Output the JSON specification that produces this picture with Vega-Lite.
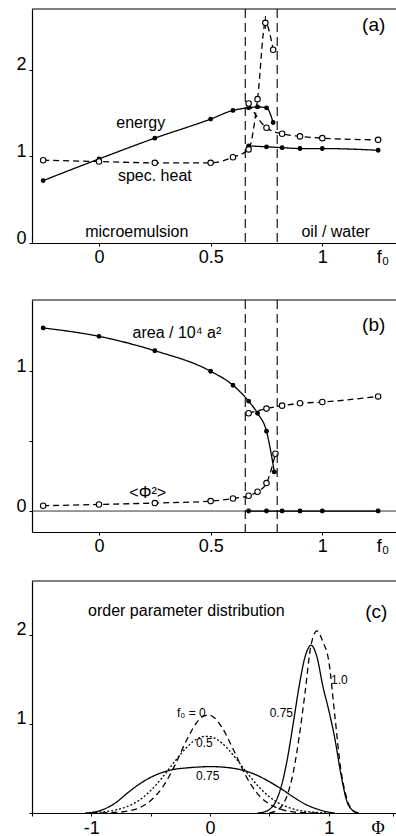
{
  "$schema": "https://vega.github.io/schema/vega-lite/v6.json",
  "padding": {"top": 8, "left": 0, "right": 0, "bottom": 0},
  "spacing": 31,
  "resolve": {"scale": {"strokeDash": "independent", "fill": "independent", "size": "independent"}},
  "config": {
    "font": "Liberation Sans",
    "view": {"stroke": null},
    "axis": {"grid": false, "domainColor": "black", "tickColor": "black", "labelColor": "black", "labelFontSize": 18, "tickSize": 3, "domainWidth": 1.2, "tickWidth": 1, "labelFlush": false, "labelOverlap": false},
    "axisY": {"minExtent": 32, "maxExtent": 32, "labelPadding": 3, "labelBaseline": "alphabetic"},
    "text": {"font": "Liberation Sans", "color": "black"}
  },
  "datasets": {
    "a": [
      {"f0": -0.25, "value": 0.72, "quantity": "energy", "curve": "E1"},
      {"f0": 0, "value": 0.97, "quantity": "energy", "curve": "E1"},
      {"f0": 0.25, "value": 1.21, "quantity": "energy", "curve": "E1"},
      {"f0": 0.5, "value": 1.43, "quantity": "energy", "curve": "E1"},
      {"f0": 0.6, "value": 1.53, "quantity": "energy", "curve": "E1"},
      {"f0": 0.67, "value": 1.56, "quantity": "energy", "curve": "E1"},
      {"f0": 0.71, "value": 1.57, "quantity": "energy", "curve": "E1"},
      {"f0": 0.75, "value": 1.56, "quantity": "energy", "curve": "E1"},
      {"f0": 0.78, "value": 1.39, "quantity": "energy", "curve": "E1"},
      {"f0": 0.67, "value": 1.12, "quantity": "energy", "curve": "E2"},
      {"f0": 0.75, "value": 1.11, "quantity": "energy", "curve": "E2"},
      {"f0": 0.82, "value": 1.1, "quantity": "energy", "curve": "E2"},
      {"f0": 0.9, "value": 1.09, "quantity": "energy", "curve": "E2"},
      {"f0": 1.0, "value": 1.09, "quantity": "energy", "curve": "E2"},
      {"f0": 1.25, "value": 1.07, "quantity": "energy", "curve": "E2"},
      {"f0": -0.25, "value": 0.955, "quantity": "spec. heat", "curve": "C1"},
      {"f0": 0, "value": 0.94, "quantity": "spec. heat", "curve": "C1"},
      {"f0": 0.25, "value": 0.925, "quantity": "spec. heat", "curve": "C1"},
      {"f0": 0.5, "value": 0.925, "quantity": "spec. heat", "curve": "C1"},
      {"f0": 0.6, "value": 0.99, "quantity": "spec. heat", "curve": "C1"},
      {"f0": 0.67, "value": 1.08, "quantity": "spec. heat", "curve": "C1"},
      {"f0": 0.71, "value": 1.66, "quantity": "spec. heat", "curve": "C1"},
      {"f0": 0.745, "value": 2.54, "quantity": "spec. heat", "curve": "C1"},
      {"f0": 0.78, "value": 2.23, "quantity": "spec. heat", "curve": "C1"},
      {"f0": 0.67, "value": 1.61, "quantity": "spec. heat", "curve": "C2"},
      {"f0": 0.75, "value": 1.33, "quantity": "spec. heat", "curve": "C2"},
      {"f0": 0.82, "value": 1.26, "quantity": "spec. heat", "curve": "C2"},
      {"f0": 0.9, "value": 1.23, "quantity": "spec. heat", "curve": "C2"},
      {"f0": 1.0, "value": 1.21, "quantity": "spec. heat", "curve": "C2"},
      {"f0": 1.25, "value": 1.19, "quantity": "spec. heat", "curve": "C2"}
    ],
    "b": [
      {"f0": -0.25, "value": 1.31, "quantity": "area", "curve": "A1"},
      {"f0": 0, "value": 1.25, "quantity": "area", "curve": "A1"},
      {"f0": 0.25, "value": 1.147, "quantity": "area", "curve": "A1"},
      {"f0": 0.5, "value": 1.0, "quantity": "area", "curve": "A1"},
      {"f0": 0.6, "value": 0.9, "quantity": "area", "curve": "A1"},
      {"f0": 0.67, "value": 0.786, "quantity": "area", "curve": "A1"},
      {"f0": 0.71, "value": 0.7, "quantity": "area", "curve": "A1"},
      {"f0": 0.75, "value": 0.571, "quantity": "area", "curve": "A1"},
      {"f0": 0.785, "value": 0.28, "quantity": "area", "curve": "A1"},
      {"f0": 0.67, "value": 0, "quantity": "area", "curve": "A2"},
      {"f0": 0.75, "value": 0, "quantity": "area", "curve": "A2"},
      {"f0": 0.82, "value": 0, "quantity": "area", "curve": "A2"},
      {"f0": 0.9, "value": 0, "quantity": "area", "curve": "A2"},
      {"f0": 1.0, "value": 0, "quantity": "area", "curve": "A2"},
      {"f0": 1.25, "value": 0, "quantity": "area", "curve": "A2"},
      {"f0": -0.25, "value": 0.038, "quantity": "phi2", "curve": "P1"},
      {"f0": 0, "value": 0.047, "quantity": "phi2", "curve": "P1"},
      {"f0": 0.25, "value": 0.057, "quantity": "phi2", "curve": "P1"},
      {"f0": 0.5, "value": 0.071, "quantity": "phi2", "curve": "P1"},
      {"f0": 0.6, "value": 0.09, "quantity": "phi2", "curve": "P1"},
      {"f0": 0.67, "value": 0.109, "quantity": "phi2", "curve": "P1"},
      {"f0": 0.71, "value": 0.138, "quantity": "phi2", "curve": "P1"},
      {"f0": 0.75, "value": 0.2, "quantity": "phi2", "curve": "P1"},
      {"f0": 0.79, "value": 0.41, "quantity": "phi2", "curve": "P1"},
      {"f0": 0.67, "value": 0.7, "quantity": "phi2", "curve": "P2"},
      {"f0": 0.75, "value": 0.733, "quantity": "phi2", "curve": "P2"},
      {"f0": 0.82, "value": 0.754, "quantity": "phi2", "curve": "P2"},
      {"f0": 0.9, "value": 0.771, "quantity": "phi2", "curve": "P2"},
      {"f0": 1.0, "value": 0.78, "quantity": "phi2", "curve": "P2"},
      {"f0": 1.25, "value": 0.82, "quantity": "phi2", "curve": "P2"}
    ],
    "c": [
      {"phi": -1.0, "p": 0.0, "f0": "0", "curve": "0"},
      {"phi": -0.9, "p": 0.002, "f0": "0", "curve": "0"},
      {"phi": -0.8, "p": 0.006, "f0": "0", "curve": "0"},
      {"phi": -0.7, "p": 0.02, "f0": "0", "curve": "0"},
      {"phi": -0.6, "p": 0.055, "f0": "0", "curve": "0"},
      {"phi": -0.5, "p": 0.14, "f0": "0", "curve": "0"},
      {"phi": -0.4, "p": 0.29, "f0": "0", "curve": "0"},
      {"phi": -0.3, "p": 0.525, "f0": "0", "curve": "0"},
      {"phi": -0.2, "p": 0.81, "f0": "0", "curve": "0"},
      {"phi": -0.1, "p": 1.035, "f0": "0", "curve": "0"},
      {"phi": -0.05, "p": 1.09, "f0": "0", "curve": "0"},
      {"phi": 0, "p": 1.096, "f0": "0", "curve": "0"},
      {"phi": 0.05, "p": 1.05, "f0": "0", "curve": "0"},
      {"phi": 0.1, "p": 0.96, "f0": "0", "curve": "0"},
      {"phi": 0.2, "p": 0.7, "f0": "0", "curve": "0"},
      {"phi": 0.3, "p": 0.42, "f0": "0", "curve": "0"},
      {"phi": 0.4, "p": 0.215, "f0": "0", "curve": "0"},
      {"phi": 0.5, "p": 0.1, "f0": "0", "curve": "0"},
      {"phi": 0.6, "p": 0.04, "f0": "0", "curve": "0"},
      {"phi": 0.7, "p": 0.012, "f0": "0", "curve": "0"},
      {"phi": 0.8, "p": 0.003, "f0": "0", "curve": "0"},
      {"phi": 0.9, "p": 0.0, "f0": "0", "curve": "0"},
      {"phi": -1.0, "p": 0.005, "f0": "0.5", "curve": "0.5"},
      {"phi": -0.9, "p": 0.013, "f0": "0.5", "curve": "0.5"},
      {"phi": -0.8, "p": 0.032, "f0": "0.5", "curve": "0.5"},
      {"phi": -0.7, "p": 0.071, "f0": "0.5", "curve": "0.5"},
      {"phi": -0.6, "p": 0.141, "f0": "0.5", "curve": "0.5"},
      {"phi": -0.5, "p": 0.252, "f0": "0.5", "curve": "0.5"},
      {"phi": -0.4, "p": 0.402, "f0": "0.5", "curve": "0.5"},
      {"phi": -0.3, "p": 0.574, "f0": "0.5", "curve": "0.5"},
      {"phi": -0.2, "p": 0.732, "f0": "0.5", "curve": "0.5"},
      {"phi": -0.1, "p": 0.837, "f0": "0.5", "curve": "0.5"},
      {"phi": -0.05, "p": 0.858, "f0": "0.5", "curve": "0.5"},
      {"phi": 0, "p": 0.856, "f0": "0.5", "curve": "0.5"},
      {"phi": 0.1, "p": 0.783, "f0": "0.5", "curve": "0.5"},
      {"phi": 0.2, "p": 0.641, "f0": "0.5", "curve": "0.5"},
      {"phi": 0.3, "p": 0.47, "f0": "0.5", "curve": "0.5"},
      {"phi": 0.4, "p": 0.308, "f0": "0.5", "curve": "0.5"},
      {"phi": 0.5, "p": 0.181, "f0": "0.5", "curve": "0.5"},
      {"phi": 0.6, "p": 0.095, "f0": "0.5", "curve": "0.5"},
      {"phi": 0.7, "p": 0.045, "f0": "0.5", "curve": "0.5"},
      {"phi": 0.8, "p": 0.019, "f0": "0.5", "curve": "0.5"},
      {"phi": 0.9, "p": 0.007, "f0": "0.5", "curve": "0.5"},
      {"phi": 1.0, "p": 0.002, "f0": "0.5", "curve": "0.5"},
      {"phi": -1.05, "p": 0.0, "f0": "0.75", "curve": "0.75L"},
      {"phi": -1.0, "p": 0.005, "f0": "0.75", "curve": "0.75L"},
      {"phi": -0.9, "p": 0.04, "f0": "0.75", "curve": "0.75L"},
      {"phi": -0.8, "p": 0.11, "f0": "0.75", "curve": "0.75L"},
      {"phi": -0.7, "p": 0.22, "f0": "0.75", "curve": "0.75L"},
      {"phi": -0.6, "p": 0.32, "f0": "0.75", "curve": "0.75L"},
      {"phi": -0.5, "p": 0.4, "f0": "0.75", "curve": "0.75L"},
      {"phi": -0.4, "p": 0.455, "f0": "0.75", "curve": "0.75L"},
      {"phi": -0.3, "p": 0.49, "f0": "0.75", "curve": "0.75L"},
      {"phi": -0.2, "p": 0.505, "f0": "0.75", "curve": "0.75L"},
      {"phi": -0.1, "p": 0.515, "f0": "0.75", "curve": "0.75L"},
      {"phi": 0, "p": 0.52, "f0": "0.75", "curve": "0.75L"},
      {"phi": 0.1, "p": 0.515, "f0": "0.75", "curve": "0.75L"},
      {"phi": 0.2, "p": 0.5, "f0": "0.75", "curve": "0.75L"},
      {"phi": 0.3, "p": 0.47, "f0": "0.75", "curve": "0.75L"},
      {"phi": 0.4, "p": 0.42, "f0": "0.75", "curve": "0.75L"},
      {"phi": 0.5, "p": 0.35, "f0": "0.75", "curve": "0.75L"},
      {"phi": 0.6, "p": 0.27, "f0": "0.75", "curve": "0.75L"},
      {"phi": 0.7, "p": 0.18, "f0": "0.75", "curve": "0.75L"},
      {"phi": 0.8, "p": 0.1, "f0": "0.75", "curve": "0.75L"},
      {"phi": 0.9, "p": 0.045, "f0": "0.75", "curve": "0.75L"},
      {"phi": 1.0, "p": 0.01, "f0": "0.75", "curve": "0.75L"},
      {"phi": 1.05, "p": 0.0, "f0": "0.75", "curve": "0.75L"},
      {"phi": 0.4, "p": 0.0, "f0": "0.75", "curve": "0.75R"},
      {"phi": 0.45, "p": 0.01, "f0": "0.75", "curve": "0.75R"},
      {"phi": 0.5, "p": 0.04, "f0": "0.75", "curve": "0.75R"},
      {"phi": 0.55, "p": 0.12, "f0": "0.75", "curve": "0.75R"},
      {"phi": 0.6, "p": 0.3, "f0": "0.75", "curve": "0.75R"},
      {"phi": 0.65, "p": 0.6, "f0": "0.75", "curve": "0.75R"},
      {"phi": 0.7, "p": 1.0, "f0": "0.75", "curve": "0.75R"},
      {"phi": 0.75, "p": 1.42, "f0": "0.75", "curve": "0.75R"},
      {"phi": 0.8, "p": 1.75, "f0": "0.75", "curve": "0.75R"},
      {"phi": 0.85, "p": 1.88, "f0": "0.75", "curve": "0.75R"},
      {"phi": 0.9, "p": 1.75, "f0": "0.75", "curve": "0.75R"},
      {"phi": 0.95, "p": 1.42, "f0": "0.75", "curve": "0.75R"},
      {"phi": 1.0, "p": 1.15, "f0": "0.75", "curve": "0.75R"},
      {"phi": 1.05, "p": 0.84, "f0": "0.75", "curve": "0.75R"},
      {"phi": 1.1, "p": 0.45, "f0": "0.75", "curve": "0.75R"},
      {"phi": 1.15, "p": 0.14, "f0": "0.75", "curve": "0.75R"},
      {"phi": 1.2, "p": 0.03, "f0": "0.75", "curve": "0.75R"},
      {"phi": 1.25, "p": 0.0, "f0": "0.75", "curve": "0.75R"},
      {"phi": 0.5, "p": 0.0, "f0": "1.0", "curve": "1.0"},
      {"phi": 0.55, "p": 0.02, "f0": "1.0", "curve": "1.0"},
      {"phi": 0.6, "p": 0.07, "f0": "1.0", "curve": "1.0"},
      {"phi": 0.65, "p": 0.2, "f0": "1.0", "curve": "1.0"},
      {"phi": 0.7, "p": 0.45, "f0": "1.0", "curve": "1.0"},
      {"phi": 0.75, "p": 0.85, "f0": "1.0", "curve": "1.0"},
      {"phi": 0.8, "p": 1.35, "f0": "1.0", "curve": "1.0"},
      {"phi": 0.85, "p": 1.88, "f0": "1.0", "curve": "1.0"},
      {"phi": 0.9, "p": 2.04, "f0": "1.0", "curve": "1.0"},
      {"phi": 0.95, "p": 1.92, "f0": "1.0", "curve": "1.0"},
      {"phi": 1.0, "p": 1.7, "f0": "1.0", "curve": "1.0"},
      {"phi": 1.05, "p": 1.1, "f0": "1.0", "curve": "1.0"},
      {"phi": 1.1, "p": 0.5, "f0": "1.0", "curve": "1.0"},
      {"phi": 1.15, "p": 0.17, "f0": "1.0", "curve": "1.0"},
      {"phi": 1.2, "p": 0.03, "f0": "1.0", "curve": "1.0"},
      {"phi": 1.25, "p": 0.0, "f0": "1.0", "curve": "1.0"}
    ]
  },
  "vconcat": [
    {
      "width": 364,
      "height": 234,
      "layer": [
        {
          "data": {"name": "a"},
          "mark": {"type": "line", "interpolate": "monotone", "color": "black", "strokeWidth": 1.3},
          "encoding": {
            "x": {"field": "f0", "type": "quantitative", "title": null, "scale": {"domain": [-0.3, 1.33], "nice": false, "zero": false},
              "axis": {"values": [0, 0.5, 1, 1.27], "format": "~g", "labelExpr": "datum.value > 1.2 ? 'f₀' : datum.label", "tickOpacity": {"condition": {"test": "datum.value > 1.2", "value": 0}, "value": 1}, "labelPadding": 2, "minExtent": 25, "maxExtent": 25}},
            "y": {"field": "value", "type": "quantitative", "title": null, "scale": {"domain": [0, 2.7], "nice": false, "zero": false},
              "axis": {"values": [0, 1, 2], "format": "d"}},
            "detail": {"field": "curve", "type": "nominal"},
            "strokeDash": {"field": "quantity", "type": "nominal", "scale": {"domain": ["energy", "spec. heat"], "range": [[1, 0], [6, 4]]}, "legend": null}
          }
        },
        {
          "data": {"values": [{"f0": 0.745, "lo": 2.47, "hi": 2.62}]},
          "mark": {"type": "rule", "color": "black", "strokeWidth": 1},
          "encoding": {
            "x": {"field": "f0", "type": "quantitative", "scale": {"domain": [-0.3, 1.33], "nice": false, "zero": false}},
            "y": {"field": "lo", "type": "quantitative", "scale": {"domain": [0, 2.7], "nice": false, "zero": false}},
            "y2": {"field": "hi"}
          }
        },
        {
          "data": {"name": "a"},
          "mark": {"type": "point", "shape": "circle", "filled": true, "stroke": "black", "strokeWidth": 1.1, "opacity": 1},
          "encoding": {
            "x": {"field": "f0", "type": "quantitative", "scale": {"domain": [-0.3, 1.33], "nice": false, "zero": false}},
            "y": {"field": "value", "type": "quantitative", "scale": {"domain": [0, 2.7], "nice": false, "zero": false}},
            "fill": {"field": "quantity", "type": "nominal", "scale": {"domain": ["energy", "spec. heat"], "range": ["black", "white"]}, "legend": null},
            "size": {"field": "quantity", "type": "nominal", "scale": {"domain": ["energy", "spec. heat"], "range": [14, 30]}, "legend": null}
          }
        },
        {
          "data": {"values": [{"f0": 0.655}, {"f0": 0.798}]},
          "mark": {"type": "rule", "color": "black", "strokeWidth": 1.1, "strokeDash": [9, 5]},
          "encoding": {"x": {"field": "f0", "type": "quantitative", "scale": {"domain": [-0.3, 1.33], "nice": false, "zero": false}}}
        },
        {
          "data": {"values": [{}]},
          "mark": {"type": "rule", "color": "black", "strokeWidth": 1.2},
          "encoding": {"y": {"datum": 2.7, "type": "quantitative"}}
        },
        {"data": {"values": [{}]}, "mark": {"type": "text", "fontSize": 16}, "encoding": {"x": {"datum": 0.187, "type": "quantitative"}, "y": {"datum": 1.39, "type": "quantitative"}, "text": {"value": "energy"}}},
        {"data": {"values": [{}]}, "mark": {"type": "text", "fontSize": 16}, "encoding": {"x": {"datum": 0.25, "type": "quantitative"}, "y": {"datum": 0.775, "type": "quantitative"}, "text": {"value": "spec. heat"}}},
        {"data": {"values": [{}]}, "mark": {"type": "text", "fontSize": 16}, "encoding": {"x": {"datum": 0.169, "type": "quantitative"}, "y": {"datum": 0.127, "type": "quantitative"}, "text": {"value": "microemulsion"}}},
        {"data": {"values": [{}]}, "mark": {"type": "text", "fontSize": 16}, "encoding": {"x": {"datum": 1.06, "type": "quantitative"}, "y": {"datum": 0.127, "type": "quantitative"}, "text": {"value": "oil / water"}}},
        {"data": {"values": [{}]}, "mark": {"type": "text", "fontSize": 19}, "encoding": {"x": {"datum": 1.23, "type": "quantitative"}, "y": {"datum": 2.52, "type": "quantitative"}, "text": {"value": "(a)"}}}
      ]
    },
    {
      "spacing": 25,
      "resolve": {"scale": {"strokeDash": "independent", "fill": "independent", "size": "independent"}},
      "vconcat": [
        {
          "width": 364,
          "height": 232,
          "layer": [
            {
              "data": {"values": [{}]},
              "mark": {"type": "rule", "color": "black", "strokeWidth": 0.8},
              "encoding": {"y": {"datum": 0, "type": "quantitative", "scale": {"domain": [-0.15, 1.51], "nice": false, "zero": false}}}
            },
            {
              "data": {"name": "b"},
              "mark": {"type": "line", "interpolate": "monotone", "color": "black", "strokeWidth": 1.3},
              "encoding": {
                "x": {"field": "f0", "type": "quantitative", "title": null, "scale": {"domain": [-0.3, 1.33], "nice": false, "zero": false},
                  "axis": {"values": [0, 0.5, 1, 1.27], "format": "~g", "labelExpr": "datum.value > 1.2 ? 'f₀' : datum.label", "tickOpacity": {"condition": {"test": "datum.value > 1.2", "value": 0}, "value": 1}, "labelPadding": 2}},
                "y": {"field": "value", "type": "quantitative", "title": null, "scale": {"domain": [-0.15, 1.51], "nice": false, "zero": false},
                  "axis": {"values": [0, 0.5, 1], "labelExpr": "datum.value == 0.5 ? '' : format(datum.value, 'd')"}},
                "detail": {"field": "curve", "type": "nominal"},
                "strokeDash": {"field": "quantity", "type": "nominal", "scale": {"domain": ["area", "phi2"], "range": [[1, 0], [6, 4]]}, "legend": null}
              }
            },
            {
              "data": {"name": "b"},
              "mark": {"type": "point", "shape": "circle", "filled": true, "stroke": "black", "strokeWidth": 1.1, "opacity": 1},
              "encoding": {
                "x": {"field": "f0", "type": "quantitative", "scale": {"domain": [-0.3, 1.33], "nice": false, "zero": false}},
                "y": {"field": "value", "type": "quantitative", "scale": {"domain": [-0.15, 1.51], "nice": false, "zero": false}},
                "fill": {"field": "quantity", "type": "nominal", "scale": {"domain": ["area", "phi2"], "range": ["black", "white"]}, "legend": null},
                "size": {"field": "quantity", "type": "nominal", "scale": {"domain": ["area", "phi2"], "range": [14, 30]}, "legend": null}
              }
            },
            {
              "data": {"values": [{"f0": 0.655}, {"f0": 0.798}]},
              "mark": {"type": "rule", "color": "black", "strokeWidth": 1.1, "strokeDash": [9, 5]},
              "encoding": {"x": {"field": "f0", "type": "quantitative", "scale": {"domain": [-0.3, 1.33], "nice": false, "zero": false}}}
            },
            {
              "data": {"values": [{}]},
              "mark": {"type": "rule", "color": "black", "strokeWidth": 1.2},
              "encoding": {"y": {"datum": 1.51, "type": "quantitative"}}
            },
            {"data": {"values": [{}]}, "mark": {"type": "text", "fontSize": 16}, "encoding": {"x": {"datum": 0.349, "type": "quantitative"}, "y": {"datum": 1.275, "type": "quantitative"}, "text": {"value": "area / 10⁴ a²"}}},
            {"data": {"values": [{}]}, "mark": {"type": "text", "fontSize": 16}, "encoding": {"x": {"datum": 0.218, "type": "quantitative"}, "y": {"datum": 0.131, "type": "quantitative"}, "text": {"value": "<Φ²>"}}},
            {"data": {"values": [{}]}, "mark": {"type": "text", "fontSize": 19}, "encoding": {"x": {"datum": 1.23, "type": "quantitative"}, "y": {"datum": 1.33, "type": "quantitative"}, "text": {"value": "(b)"}}}
          ]
        },
        {
          "width": 364,
          "height": 232,
          "layer": [
            {
              "data": {"name": "c"},
              "mark": {"type": "line", "interpolate": "monotone", "color": "black", "strokeWidth": 1.3},
              "encoding": {
                "x": {"field": "phi", "type": "quantitative", "title": null, "scale": {"domain": [-1.5, 1.566], "nice": false, "zero": false},
                  "axis": {"values": [-1.5, -1, -0.5, 0, 0.5, 1, 1.41, 1.54], "labelExpr": "datum.value == -1 ? '-1' : datum.value == 0 ? '0' : datum.value == 1 ? '1' : datum.value == 1.41 ? 'Φ' : ''", "labelFont": {"condition": {"test": "datum.value == 1.41", "value": "Liberation Serif"}, "value": "Liberation Sans"}, "tickOpacity": {"condition": {"test": "datum.value == 1.41", "value": 0}, "value": 1}, "labelPadding": 3}},
                "y": {"field": "p", "type": "quantitative", "title": null, "scale": {"domain": [0, 2.6], "nice": false, "zero": false},
                  "axis": {"values": [0, 1, 2], "labelExpr": "datum.value == 0 ? '' : format(datum.value, 'd')"}},
                "detail": {"field": "curve", "type": "nominal"},
                "strokeDash": {"field": "curve", "type": "nominal", "scale": {"domain": ["0", "0.5", "0.75L", "0.75R", "1.0"], "range": [[6, 4], [2, 2], [1, 0], [1, 0], [6, 4]]}, "legend": null}
              }
            },
            {
              "data": {"values": [{}]},
              "mark": {"type": "rule", "color": "black", "strokeWidth": 1.2},
              "encoding": {"y": {"datum": 2.6, "type": "quantitative"}}
            },
            {"data": {"values": [{}]}, "mark": {"type": "text", "fontSize": 16}, "encoding": {"x": {"datum": -0.2, "type": "quantitative"}, "y": {"datum": 2.26, "type": "quantitative"}, "text": {"value": "order parameter distribution"}}},
            {"data": {"values": [{}]}, "mark": {"type": "text", "fontSize": 19}, "encoding": {"x": {"datum": 1.4, "type": "quantitative"}, "y": {"datum": 2.25, "type": "quantitative"}, "text": {"value": "(c)"}}},
            {"data": {"values": [{}]}, "mark": {"type": "text", "fontSize": 12}, "encoding": {"x": {"datum": -0.158, "type": "quantitative"}, "y": {"datum": 1.12, "type": "quantitative"}, "text": {"value": "f₀ = 0"}}},
            {"data": {"values": [{}]}, "mark": {"type": "text", "fontSize": 12}, "encoding": {"x": {"datum": -0.048, "type": "quantitative"}, "y": {"datum": 0.78, "type": "quantitative"}, "text": {"value": "0.5"}}},
            {"data": {"values": [{}]}, "mark": {"type": "text", "fontSize": 12}, "encoding": {"x": {"datum": -0.02, "type": "quantitative"}, "y": {"datum": 0.42, "type": "quantitative"}, "text": {"value": "0.75"}}},
            {"data": {"values": [{}]}, "mark": {"type": "text", "fontSize": 12}, "encoding": {"x": {"datum": 0.6, "type": "quantitative"}, "y": {"datum": 1.12, "type": "quantitative"}, "text": {"value": "0.75"}}},
            {"data": {"values": [{}]}, "mark": {"type": "text", "fontSize": 12}, "encoding": {"x": {"datum": 1.089, "type": "quantitative"}, "y": {"datum": 1.49, "type": "quantitative"}, "text": {"value": "1.0"}}}
          ]
        }
      ]
    }
  ]
}
